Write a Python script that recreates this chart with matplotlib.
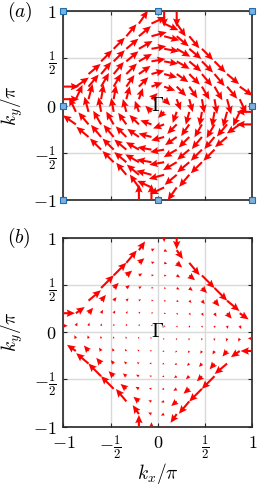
import numpy as np
import matplotlib
matplotlib.use("Agg")
import matplotlib.pyplot as plt

plt.rcParams['mathtext.fontset'] = 'cm'
plt.rcParams['font.family'] = 'serif'

# k grid (units of pi), same for kx and ky
k_vals = [-1, -0.867, -0.733, -0.6, -0.467, -0.333, -0.2, -0.067,
          0.067, 0.2, 0.333, 0.467, 0.6, 0.733, 0.867, 1]

# arrow direction in degrees, rows from ky=+1 (top) to ky=-1, '.' = no arrow
angle_rows = """
  .    .    .    .    .    .   90   90  -90  -90    .    .    .    .    .    .
  .    .    .    .    .    .   55   25  -25  -55    .    .    .    .    .    .
  .    .    .    .    .   50   40   15  -15  -40  -50    .    .    .    .    .
  .    .    .    .   45   40   30   10  -10  -30  -40  -45    .    .    .    .
  .    .    .   45   45   40   30   10  -10  -30  -40  -45  -45    .    .    .
  .    .   40   50   50   45   35   15  -15  -35  -45  -50  -50  -40    .    .
  0   35   50   60   60   55   45   20  -20  -45  -55  -60  -60  -50  -35    0
  0   65   75   80   80   75   70   45  -45  -70  -75  -80  -80  -75  -65    0
180  115  105  100  100  105  110  135  225  250  255  260  260  255  245  180
180  145  130  120  120  125  135  160  200  225  235  240  240  230  215  180
  .    .  140  130  130  135  145  165  195  215  225  230  230  220    .    .
  .    .    .  135  135  140  150  170  190  210  220  225  225    .    .    .
  .    .    .    .  135  140  150  170  190  210  220  225    .    .    .    .
  .    .    .    .    .  130  140  165  195  220  230    .    .    .    .    .
  .    .    .    .    .    .  125  155  205  235    .    .    .    .    .    .
  .    .    .    .    .    .   90   90  270  270    .    .    .    .    .    .
"""

# relative arrow length in panel (a)
mag_rows_a = """
  .    .    .    .    .    .  100  100  100  100    .    .    .    .    .    .
  .    .    .    .    .    .  100  100  100  100    .    .    .    .    .    .
  .    .    .    .    .  100  100  100  100  100  100    .    .    .    .    .
  .    .    .    .  100  100  100   95   95  100  100  100    .    .    .    .
  .    .    .  100  100  100   95   90   90   95  100  100  100    .    .    .
  .    .  100  100  100   95   90   85   85   90   95  100  100  100    .    .
100  100  100  100   95   90   85   75   75   85   90   95  100  100  100  100
100  100  100   95   90   85   75   55   55   75   85   90   95  100  100  100
100  100  100   95   90   85   75   55   55   75   85   90   95  100  100  100
100  100  100  100   95   90   85   75   75   85   90   95  100  100  100  100
  .    .  100  100  100   95   90   85   85   90   95  100  100  100    .    .
  .    .    .  100  100  100   95   90   90   95  100  100  100    .    .    .
  .    .    .    .  100  100  100   95   95  100  100  100    .    .    .    .
  .    .    .    .    .  100  100  100  100  100  100    .    .    .    .    .
  .    .    .    .    .    .  100  100  100  100    .    .    .    .    .    .
  .    .    .    .    .    .  100  100  100  100    .    .    .    .    .    .
"""

# relative arrow length in panel (b), same layout
mag_rows_b = """
  .    .    .    .    .    .   65   25   25   65    .    .    .    .    .    .
  .    .    .    .    .    .   60   20   20   60    .    .    .    .    .    .
  .    .    .    .    .   90   40   18   18   40   90    .    .    .    .    .
  .    .    .    .  100   42   22   14   14   22   42  100    .    .    .    .
  .    .    .  100   40   25   18   12   12   18   25   40  100    .    .    .
  .    .   90   42   25   18   14   12   12   14   18   25   42   90    .    .
 65   60   40   22   18   14   12   11   11   12   14   18   22   40   60   65
 25   20   18   14   12   12   11   10   10   11   12   12   14   18   20   25
 25   20   18   14   12   12   11   10   10   11   12   12   14   18   20   25
 65   60   40   22   18   14   12   11   11   12   14   18   22   40   60   65
  .    .   90   42   25   18   14   12   12   14   18   25   42   90    .    .
  .    .    .  100   40   25   18   12   12   18   25   40  100    .    .    .
  .    .    .    .  100   42   22   14   14   22   42  100    .    .    .    .
  .    .    .    .    .   90   40   18   18   40   90    .    .    .    .    .
  .    .    .    .    .    .   60   20   20   60    .    .    .    .    .    .
  .    .    .    .    .    .   65   25   25   65    .    .    .    .    .    .
"""

# high-symmetry points marked in panel (a)
sym_kx = [-1, 0, 1, -1, 1, -1, 0, 1]
sym_ky = [1, 1, 1, 0, 0, -1, -1, -1]

tick_vals = [-1, -0.5, 0, 0.5, 1]
tick_labels = [r'$-1$', r'$-\frac{1}{2}$', r'$0$', r'$\frac{1}{2}$', r'$1$']


def parse(txt):
    rows = []
    for line in txt.strip().splitlines():
        rows.append([np.nan if s == '.' else float(s) for s in line.split()])
    return np.array(rows)


ang = np.deg2rad(parse(angle_rows))
mag_a = parse(mag_rows_a)
mag_b = parse(mag_rows_b)
ky_rows = list(reversed(k_vals))
KX, KY = np.meshgrid(k_vals, ky_rows)
ok = ~np.isnan(ang)

fig = plt.figure(figsize=(2.57, 4.87), dpi=100)
ax_a = fig.add_axes([0.2463, 0.5893, 0.7354, 0.3881])
ax_b = fig.add_axes([0.2463, 0.1240, 0.7354, 0.3881])

for ax in (ax_a, ax_b):
    ax.set_xlim(-1, 1)
    ax.set_ylim(-1, 1)
    ax.set_aspect('equal')
    ax.set_xticks(tick_vals)
    ax.set_yticks(tick_vals)
    ax.set_yticklabels(tick_labels)
    ax.grid(True, color='#d9d9d9', lw=1.0)
    ax.set_axisbelow(True)
    ax.tick_params(direction='in', length=3, width=0.8, top=True, right=True,
                   labelsize=13, pad=5, color='#262626')
    for s in ax.spines.values():
        s.set_linewidth(1.2)
        s.set_color('#262626')
    ax.text(0, 0, r'$\Gamma$', fontsize=14, ha='center', va='center', zorder=5)
    ax.set_ylabel(r'$k_y/\pi$', fontsize=14)
    ax.yaxis.set_label_coords(-0.2, 0.5)

ax_a.set_xticklabels([])
ax_b.set_xticklabels(tick_labels)
ax_b.set_xlabel(r'$k_x/\pi$', fontsize=14)
ax_b.xaxis.set_label_coords(0.5, -0.18)

arrow_kw = dict(color='red', angles='xy', scale_units='xy', pivot='tail',
                width=0.011, headwidth=3.6, headlength=4.0,
                headaxislength=3.5, minlength=0, zorder=3)

# panel (a): spin texture
ua = mag_a * np.cos(ang)
va = mag_a * np.sin(ang)
ax_a.quiver(KX[ok], KY[ok], ua[ok], va[ok], scale=600.0, **arrow_kw)
ax_a.plot(sym_kx, sym_ky, 's', ms=4, mfc='#7fb0dc', mec='#1f6fb0', mew=0.8,
          clip_on=False, zorder=6)

# panel (b): weighted spin texture
ub = mag_b * np.cos(ang)
vb = mag_b * np.sin(ang)
ax_b.quiver(KX[ok], KY[ok], ub[ok], vb[ok], scale=526.0, **arrow_kw)

fig.text(0.027, 1 - 12 / 487, r'$(a)$', fontsize=14, ha='left', va='center')
fig.text(0.027, 1 - 238 / 487, r'$(b)$', fontsize=14, ha='left', va='center')

fig.savefig('out.png', dpi=100)
